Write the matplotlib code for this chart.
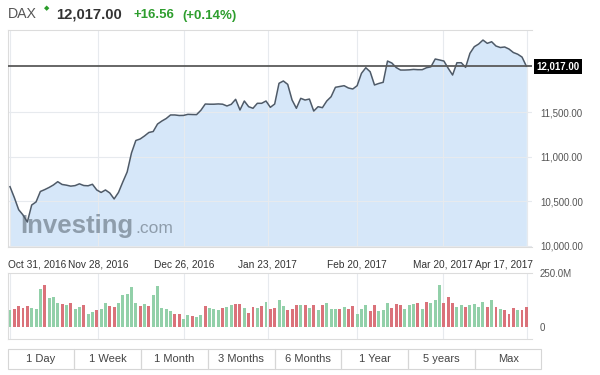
import matplotlib
matplotlib.use('Agg')
import matplotlib.pyplot as plt
import matplotlib.transforms as mtransforms
from matplotlib.patches import Rectangle
import numpy as np

plt.rcParams['font.family'] = ['Liberation Sans', 'DejaVu Sans']

# DAX daily closes, Oct 31 2016 .. Apr 2017
price = [10663, 10540, 10404, 10345, 10266, 10457, 10491, 10609, 10630, 10654,
         10682, 10719, 10688, 10680, 10669, 10675, 10695, 10676, 10673, 10690,
         10626, 10598, 10626, 10592, 10525, 10598, 10716, 10828, 11042, 11182,
         11199, 11233, 11272, 11283, 11367, 11401, 11429, 11469, 11469, 11463,
         11464, 11476, 11474, 11473, 11522, 11592, 11590, 11590, 11593, 11590,
         11570, 11589, 11645, 11525, 11626, 11562, 11544, 11600, 11600, 11626,
         11555, 11592, 11825, 11851, 11813, 11638, 11544, 11656, 11637, 11648,
         11513, 11562, 11551, 11626, 11674, 11780, 11789, 11798, 11772, 11761,
         11798, 11937, 12000, 11955, 11806, 11823, 11836, 12075, 12053, 12002,
         11974, 11974, 11976, 11981, 11978, 11978, 12000, 12010, 12098, 12087,
         12075, 11993, 11918, 12056, 12056, 12004, 12162, 12236, 12266, 12311,
         12274, 12292, 12244, 12227, 12233, 12210, 12171, 12152, 12120, 12017]

# volume in millions
volume = [77, 84, 95, 87, 95, 87, 81, 176, 195, 135,
          138, 110, 107, 103, 110, 81, 92, 103, 61, 69,
          80, 84, 112, 97, 92, 112, 149, 153, 184, 110,
          97, 107, 97, 150, 189, 87, 84, 74, 61, 61,
          35, 54, 49, 46, 54, 97, 87, 84, 77, 87,
          92, 103, 107, 107, 89, 64, 92, 89, 97, 115,
          81, 87, 126, 97, 80, 84, 103, 103, 104, 87,
          100, 77, 103, 112, 84, 84, 81, 92, 81, 97,
          61, 84, 100, 74, 104, 72, 80, 112, 87, 107,
          104, 84, 104, 107, 112, 84, 115, 110, 127, 195,
          112, 138, 112, 92, 100, 92, 100, 107, 92, 118,
          92, 123, 92, 81, 80, 61, 87, 80, 80, 92]
# G = up day, R = down day
vol_dir = ("GRRRRGGGRG" "GGRGRGGRGG" "RGGRRGGGGG" "RGRGGGGGRR"
           "GGRGGRGGGR" "GGRRGRRGRG" "RRGGRRRGRG" "RGRGGGRGRR"
           "GGGRRGGGRR" "RGGGRGRGGG" "RRRGGRGGGG" "RGRGRRRGRR")

date_ticks = [0, 20.3, 40.1, 59.4, 80, 99.8, 119.1]
date_labels = ['Oct 31, 2016', 'Nov 28, 2016', 'Dec 26, 2016', 'Jan 23, 2017',
               'Feb 20, 2017', 'Mar 20, 2017', 'Apr 17, 2017']
price_ticks = [10000, 10500, 11000, 11500]
vol_ticks = [0, 250]
vol_tick_labels = ['0', '250.0M']
buttons = ['1 Day', '1 Week', '1 Month', '3 Months', '6 Months', '1 Year', '5 years', 'Max']

last = 12017.00
change = 16.56
change_pct = 0.14

W, H = 600, 375
def fx(px):
    return px / W
def fy(py):
    return 1 - py / H

fig = plt.figure(figsize=(6, 3.75), dpi=100)
fig.patch.set_facecolor('white')
x = np.arange(len(price))
xlim = (-0.46, 120.3)
frame = '#dcdcdc'

# ---------------- price panel ----------------
ax = fig.add_axes([fx(8), fy(247), 524 / W, 217 / H])
ax.fill_between(x, price, 9900, color='#d6e7f9', lw=0, zorder=1)
ax.plot(x, price, color='#4e5a68', lw=1.1, zorder=3)
ax.axhline(last, color='#5a5a5a', lw=1.3, zorder=4)
ax.set_xlim(*xlim)
ax.set_ylim(9985, 12424)
ax.yaxis.tick_right()
ax.set_yticks(price_ticks, [f'{v:,.2f}' for v in price_ticks])
ax.tick_params(axis='y', length=0, pad=5.8, labelsize=7, labelcolor='#555555')
ax.set_xticks(date_ticks, date_labels)
ax.tick_params(axis='x', length=0, pad=9, labelsize=7.3, labelcolor='#333333')
ax.grid(color='#e7eaee', lw=0.8, zorder=2)
for s in ['top', 'left', 'bottom']:
    ax.spines[s].set_color(frame)
    ax.spines[s].set_linewidth(0.8)
ax.spines['right'].set_visible(False)

ticks = ax.xaxis.get_major_ticks()
lab0 = ticks[0].label1
lab0.set_horizontalalignment('left')
lab0.set_transform(lab0.get_transform() + mtransforms.ScaledTranslation(-0.02, 0, fig.dpi_scale_trans))
labn = ticks[-1].label1
labn.set_horizontalalignment('right')
labn.set_transform(labn.get_transform() + mtransforms.ScaledTranslation(0.06, 0, fig.dpi_scale_trans))

ax.text(1.008, last, f'{last:,.2f}', transform=ax.get_yaxis_transform(),
        ha='left', va='center', color='white', fontsize=7, fontweight='bold',
        bbox=dict(boxstyle='square,pad=0.25', fc='black', ec='none'), clip_on=False)

# watermark
ax.text(fx(20.7), fy(233), 'Investing', transform=fig.transFigure, fontsize=18.5,
        fontweight='bold', color='#8795a3', alpha=0.9, zorder=2.5, va='baseline')
ax.text(fx(135), fy(233), '.com', transform=fig.transFigure, fontsize=12.5,
        color='#8795a3', alpha=0.9, zorder=2.5, va='baseline')

# ---------------- volume panel ----------------
av = fig.add_axes([fx(8), fy(339), 524 / W, 66 / H])
bar_colors = ['#92d0a9' if d == 'G' else '#da727a' for d in vol_dir]
av.bar(x, volume, width=0.68, color=bar_colors, zorder=2)
av.set_xlim(*xlim)
av.set_ylim(-55.6, 250)
av.yaxis.tick_right()
av.set_yticks(vol_ticks, vol_tick_labels)
av.tick_params(axis='y', length=0, pad=5.8, labelsize=7, labelcolor='#555555')
av.set_xticks(date_ticks, [''] * len(date_ticks))
av.tick_params(axis='x', length=0)
av.grid(axis='x', color='#e7eaee', lw=0.8, zorder=0)
for s in ['top', 'left', 'bottom']:
    av.spines[s].set_color(frame)
    av.spines[s].set_linewidth(0.8)
av.spines['right'].set_visible(False)

# ---------------- range buttons ----------------
bx = fig.add_axes([fx(7.7), fy(369), 533.8 / W, 20 / H])
bx.set_xlim(0, len(buttons))
bx.set_ylim(0, 1)
bx.axis('off')
for k, name in enumerate(buttons):
    bx.add_patch(Rectangle((k, 0), 1, 1, fill=False, ec='#d6d6d6', lw=0.8, clip_on=False))
    bx.text(k + 0.5, 0.5, name, ha='center', va='center', fontsize=8, color='#444444')

# ---------------- header ----------------
fig.text(fx(8), fy(18.5), 'DAX', fontsize=10.2, color='#555555', va='baseline')
fig.text(fx(46.5), fy(8.5), '\u25c6', fontsize=5, color='#2a9d2a', ha='center', va='center')
fig.text(fx(56), fy(18.5), f'{last:,.2f}', fontsize=10.7, fontweight='bold',
         color='#333333', va='baseline')
fig.text(fx(133), fy(18.5), f'+{change:.2f}', fontsize=9.5, fontweight='bold',
         color='#2e9e2e', va='baseline')
fig.text(fx(182), fy(18.5), f'(+{change_pct:.2f}%)', fontsize=9.5, fontweight='bold',
         color='#2e9e2e', va='baseline')

fig.savefig('out.png', dpi=100, facecolor='white')
